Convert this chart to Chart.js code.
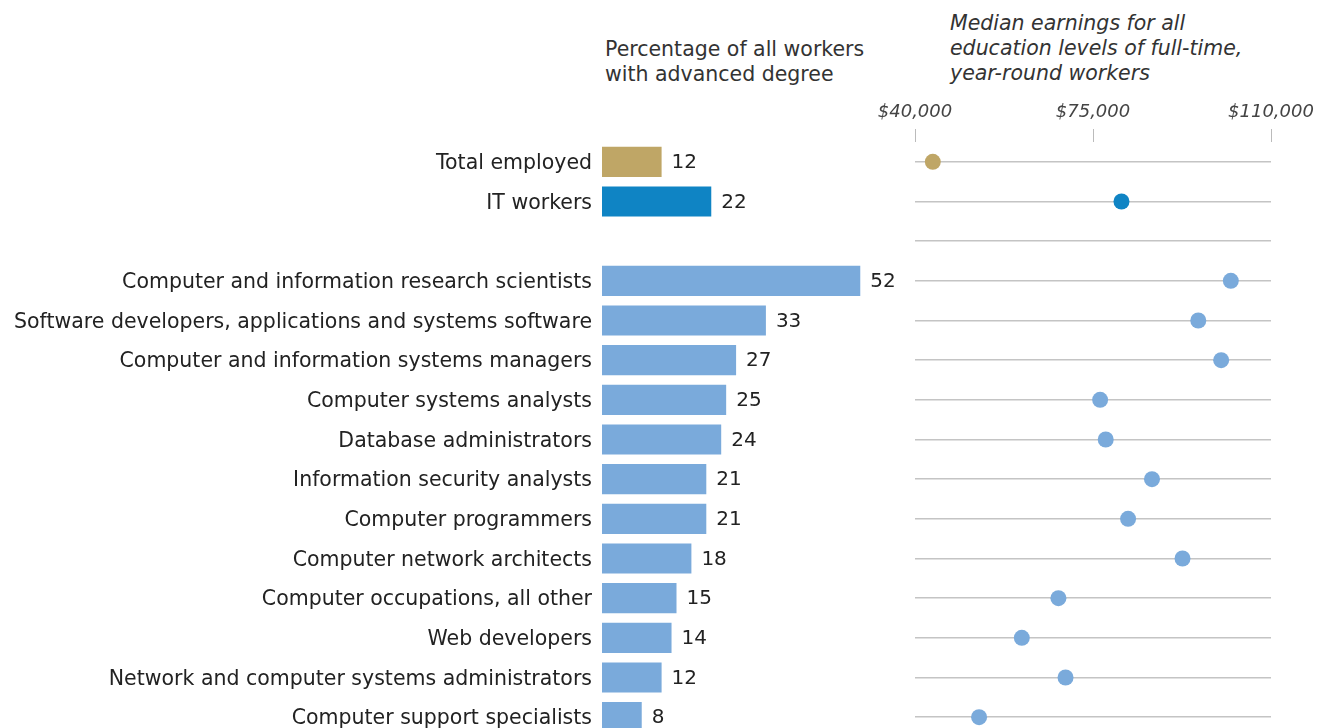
<!DOCTYPE html>
<html>
<head>
<meta charset="utf-8">
<script src="https://cdn.jsdelivr.net/npm/chart.js@4.4.1/dist/chart.umd.min.js"></script>
<style>
  html, body { margin: 0; padding: 0; background: #fff; overflow: hidden; }
  body { width: 1317px; height: 728px; position: relative; font-family: 'DejaVu Sans', sans-serif; color: #333; }
  .title { position: absolute; font-size: 20.5px; line-height: 25px; white-space: nowrap; }
  #degreeTitle { left: 605px; top: 37px; }
  #earningsTitle { left: 950px; top: 11px; font-style: italic; }
  canvas { position: absolute; top: 0; }
  #degreeChart { left: 0; }
  #earningsChart { left: 860px; }
</style>
</head>
<body>
<div class="title" id="degreeTitle">Percentage of all workers<br>with advanced degree</div>
<div class="title" id="earningsTitle">Median earnings for all<br>education levels of full-time,<br>year-round workers</div>
<canvas id="degreeChart" width="900" height="737"></canvas>
<canvas id="earningsChart" width="457" height="737"></canvas>
<script>
// rows top to bottom, the empty string is the spacer row
const categories = [
  'Total employed',
  'IT workers',
  '',
  'Computer and information research scientists',
  'Software developers, applications and systems software',
  'Computer and information systems managers',
  'Computer systems analysts',
  'Database administrators',
  'Information security analysts',
  'Computer programmers',
  'Computer network architects',
  'Computer occupations, all other',
  'Web developers',
  'Network and computer systems administrators',
  'Computer support specialists'
];
const advancedDegreePct = [12, 22, null, 52, 33, 27, 25, 24, 21, 21, 18, 15, 14, 12, 8];
const medianEarnings = [43500, 80600, null, 102100, 95700, 100200, 76400, 77500, 86600, 81900, 92600, 68200, 61000, 69600, 52600];
const earningsTicks = [40000, 75000, 110000];

const GOLD = '#bfa666';
const IT_BLUE = '#0f84c4';
const LIGHT_BLUE = '#7aaadb';
const rowColor = (i) => i === 0 ? GOLD : (i === 1 ? IT_BLUE : LIGHT_BLUE);
const colors = categories.map((_, i) => rowColor(i));

const FONT = 'DejaVu Sans';

const valueLabels = {
  id: 'valueLabels',
  afterDatasetsDraw(chart) {
    const ctx = chart.ctx;
    const meta = chart.getDatasetMeta(0);
    ctx.save();
    ctx.font = `20px "${FONT}"`;
    ctx.fillStyle = '#222';
    ctx.textBaseline = 'middle';
    ctx.textAlign = 'left';
    meta.data.forEach((bar, i) => {
      const v = advancedDegreePct[i];
      if (v == null) return;
      ctx.fillText(String(v), bar.x + 10, bar.y + 1);
    });
    ctx.restore();
  }
};

new Chart(document.getElementById('degreeChart'), {
  type: 'bar',
  data: {
    labels: categories,
    datasets: [{
      data: advancedDegreePct,
      backgroundColor: colors,
      borderWidth: 0,
      barPercentage: 0.76,
      categoryPercentage: 1
    }]
  },
  options: {
    indexAxis: 'y',
    responsive: false,
    animation: false,
    layout: { autoPadding: false, padding: { top: 142, right: 0, bottom: 0, left: 0 } },
    plugins: { legend: { display: false }, tooltip: { enabled: false } },
    scales: {
      x: { display: false, min: 0, max: 60 },
      y: {
        grid: { display: false, drawTicks: false },
        border: { display: false },
        ticks: { color: '#222', padding: 10, labelOffset: 2, font: { family: FONT, size: 20.5 } },
        afterFit: (s) => { s.width = 602; s.paddingTop = 0; s.paddingBottom = 0; }
      }
    }
  },
  plugins: [valueLabels]
});

new Chart(document.getElementById('earningsChart'), {
  type: 'line',
  data: {
    labels: categories,
    datasets: [{
      data: medianEarnings,
      showLine: false,
      pointRadius: 8,
      pointBorderWidth: 0,
      pointBackgroundColor: colors,
      pointBorderColor: colors
    }]
  },
  options: {
    indexAxis: 'y',
    responsive: false,
    animation: false,
    layout: { autoPadding: false, padding: { top: 0, right: 46, bottom: 0, left: 55 } },
    plugins: { legend: { display: false }, tooltip: { enabled: false } },
    scales: {
      x: {
        type: 'linear',
        position: 'top',
        min: 40000,
        max: 110000,
        afterBuildTicks: (s) => { s.ticks = earningsTicks.map(v => ({ value: v })); },
        grid: { drawOnChartArea: false, tickLength: 13, color: '#bbb', lineWidth: 1 },
        border: { display: false },
        ticks: {
          padding: 6,
          color: '#444',
          maxRotation: 0,
          font: { family: FONT, size: 18, style: 'italic' },
          callback: (v) => '$' + Number(v).toLocaleString('en-US')
        },
        afterFit: (s) => { s.height = 142; s.paddingLeft = 0; s.paddingRight = 0; }
      },
      y: {
        type: 'category',
        offset: true,
        grid: { color: '#c4c4c4', lineWidth: 1.5, drawTicks: false },
        border: { display: false },
        ticks: { display: false },
        afterFit: (s) => { s.width = 0; }
      }
    }
  }
});
</script>
</body>
</html>
